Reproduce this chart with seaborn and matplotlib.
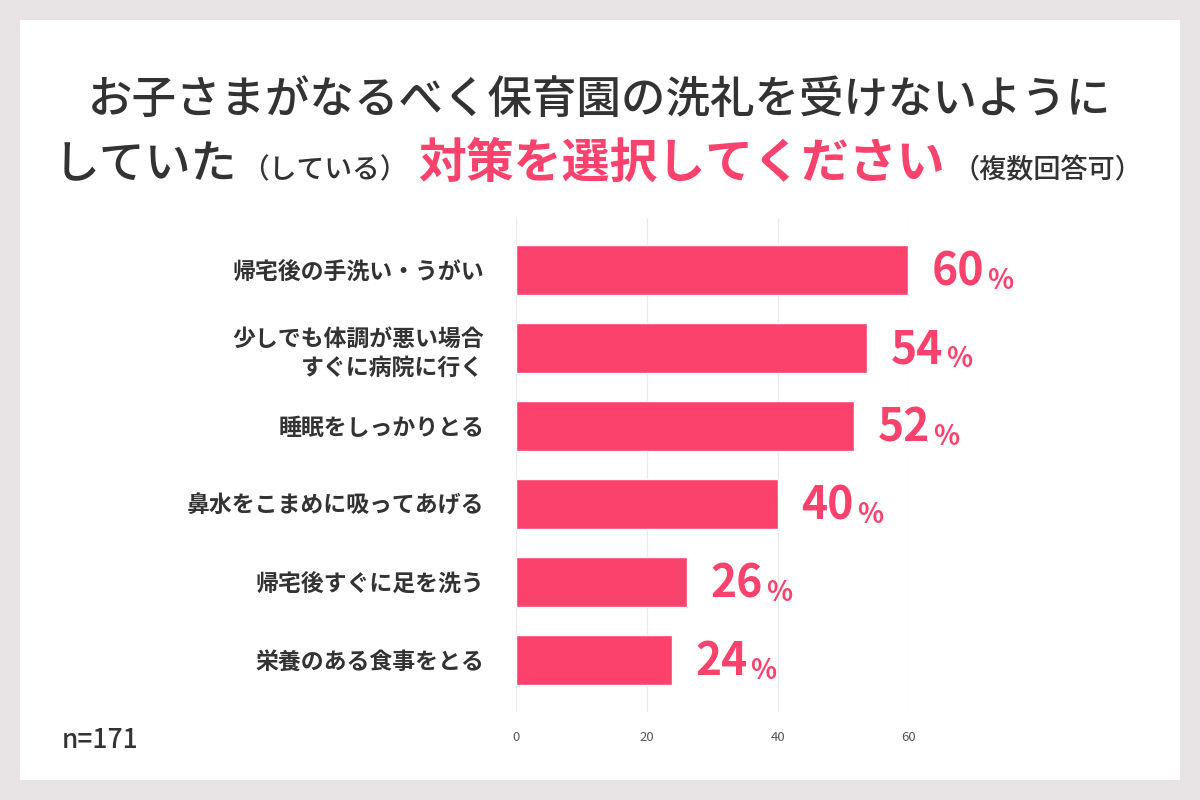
import matplotlib
matplotlib.use('Agg')
import matplotlib.pyplot as plt
import seaborn as sns
import pandas as pd
from matplotlib.patches import Rectangle

# ---- data ----
categories = [
    "帰宅後の手洗い・うがい",
    "少しでも体調が悪い場合\nすぐに病院に行く",
    "睡眠をしっかりとる",
    "鼻水をこまめに吸ってあげる",
    "帰宅後すぐに足を洗う",
    "栄養のある食事をとる",
]
values = [59.8, 53.6, 51.6, 40.0, 26.1, 23.8]
value_labels = ["60", "54", "52", "40", "26", "24"]
xticks = [0, 20, 40, 60]
title_line1 = "お子さまがなるべく保育園の洗礼を受けないように"
title_line2_texts = ["していた", "（している）", "対策を選択してください", "（複数回答可）"]
note_text = "n=171"

PINK = "#fa426c"
DARK = "#333333"
W, H = 1200, 800

sns.set_theme(style="white")
plt.rcParams['font.family'] = ['Noto Sans CJK JP', 'DejaVu Sans']

fig = plt.figure(figsize=(12, 8), dpi=100)
fig.patch.set_facecolor("#e8e3e5")
fig.patches.append(Rectangle((20 / W, 20 / H), 1160 / W, 760 / H, transform=fig.transFigure,
                             facecolor="white", edgecolor="none", zorder=-5))

ax = fig.add_axes([516 / W, 88 / H, 393 / W, 494 / H])
ax.set_facecolor("none")
df = pd.DataFrame({"label": categories, "value": values})
sns.barplot(data=df, y="label", x="value", orient="h", color=PINK, saturation=1,
            width=0.64, ax=ax, zorder=3)
ax.set_xlim(0, 60)
ax.set_ylim(5.667, -0.667)
ax.set_xticks(xticks)
ax.set_xticklabels([str(t) for t in xticks], fontsize=9.5, color="#555555")
ax.tick_params(axis="x", length=0, pad=14)
ax.tick_params(axis="y", length=0, pad=23)
for lab in ax.get_yticklabels():
    lab.set_fontsize(16.5)
    lab.set_fontweight("bold")
    lab.set_color(DARK)
    lab.set_linespacing(1.35)
ax.set_xlabel("")
ax.set_ylabel("")
for s in ax.spines.values():
    s.set_visible(False)
ax.grid(axis="x", color="#ebebeb", linewidth=1, zorder=0)
ax.set_axisbelow(True)

fig.canvas.draw()
renderer = fig.canvas.get_renderer()

# value labels
for i, (v, lab) in enumerate(zip(values, value_labels)):
    t = ax.annotate(lab, xy=(v, i), xytext=(17, -11), textcoords="offset points",
                    ha="left", va="baseline", fontsize=32, fontweight="bold", color=PINK,
                    annotation_clip=False)
    ax.annotate("%", xy=(1, 0), xycoords=t, xytext=(2, 0), textcoords="offset points",
                ha="left", va="bottom", fontsize=19.5, fontweight="bold", color=PINK,
                annotation_clip=False)

# title line 1
fig.text(0.5, 1 - 100 / H, title_line1, ha="center", va="center", fontsize=32,
         fontweight="medium", color=DARK)

# title line 2 (mixed sizes)
styles = [
    dict(fontsize=33, fontweight="medium", color=DARK),
    dict(fontsize=20, fontweight="medium", color=DARK),
    dict(fontsize=34.5, fontweight="bold", color=PINK),
    dict(fontsize=19.5, fontweight="medium", color=DARK),
]
gaps = [4, 10, 8, 0]
texts = []
for s, st in zip(title_line2_texts, styles):
    texts.append(fig.text(0, 1 - 178 / H, s, ha="left", va="baseline", **st))
widths = [t.get_window_extent(renderer).width for t in texts]
total = sum(widths) + sum(gaps[:-1])
x = 598 - total / 2
for t, w, g in zip(texts, widths, gaps):
    t.set_x(x / W)
    x += w + g

fig.text(62 / W, 1 - 740 / H, note_text, ha="left", va="center", fontsize=19,
         fontweight="medium", color=DARK)

fig.savefig("out.png", dpi=100, facecolor=fig.get_facecolor())
